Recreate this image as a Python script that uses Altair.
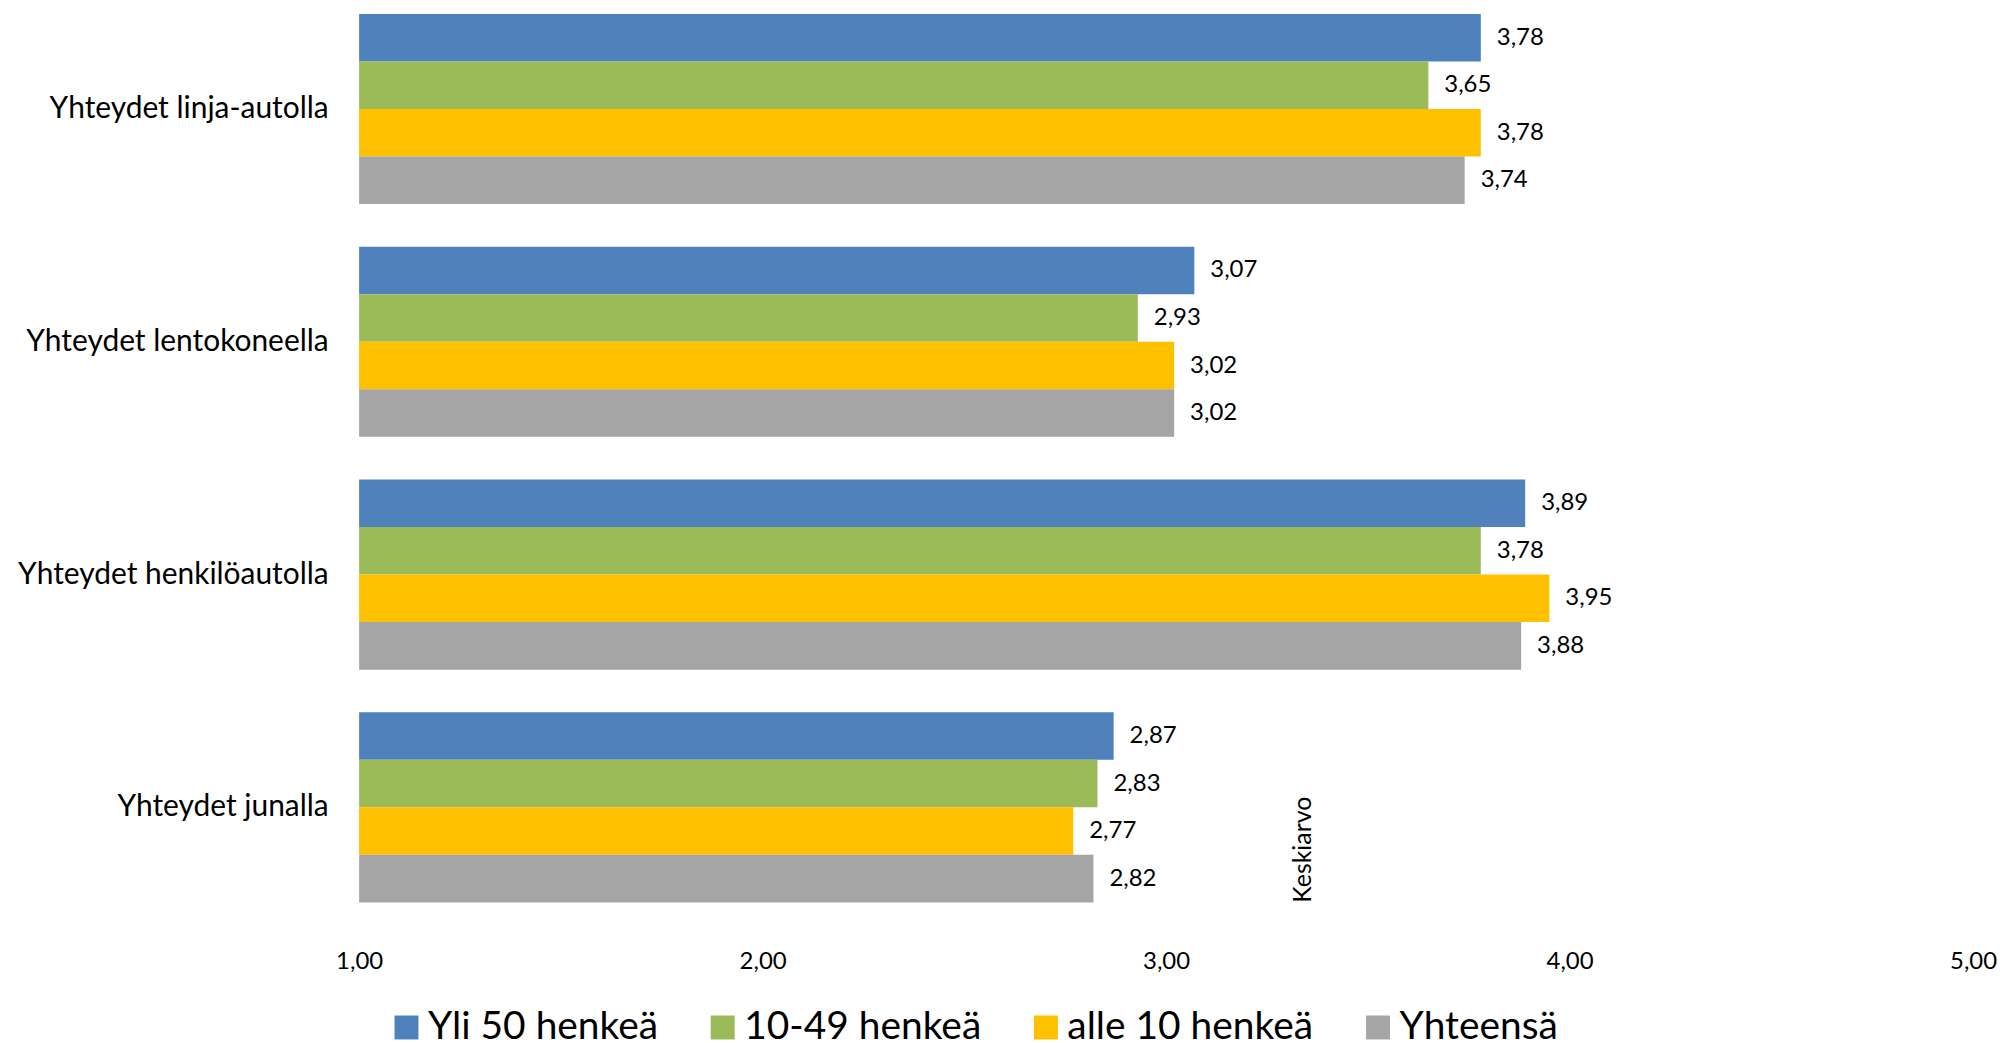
import altair as alt
import pandas as pd

categories = ["Yhteydet linja-autolla", "Yhteydet lentokoneella", "Yhteydet henkilöautolla", "Yhteydet junalla"]
series = ["Yli 50 henkeä", "10-49 henkeä", "alle 10 henkeä", "Yhteensä"]
colors = ["#4F81BD", "#9BBB59", "#FFC000", "#A5A5A5"]

yli50 = [3.78, 3.07, 3.89, 2.87]
v10_49 = [3.65, 2.93, 3.78, 2.83]
alle10 = [3.78, 3.02, 3.95, 2.77]
yhteensa = [3.74, 3.02, 3.88, 2.82]

tick_values = [1, 2, 3, 4, 5]

rows = []
for s, vals in zip(series, [yli50, v10_49, alle10, yhteensa]):
    for c, v in zip(categories, vals):
        rows.append({"kategoria": c, "sarja": s, "arvo": v})
df = pd.DataFrame(rows)

FONT = "Lato"

base = alt.Chart(df).transform_calculate(
    lbl="replace(format(datum.arvo, '.2f'), '.', ',')"
)

y_enc = alt.Y(
    "kategoria:N",
    sort=categories,
    scale=alt.Scale(paddingInner=0.183, paddingOuter=0.02),
    axis=alt.Axis(
        title="Keskiarvo",
        titleX=946,
        titleY=842,
        titleAngle=270,
        titleAlign="center",
        titleBaseline="middle",
        titleFont=FONT,
        titleFontSize=25,
        titleFontWeight="normal",
        titleColor="#000000",
        domain=False,
        ticks=False,
        grid=False,
        labelFont=FONT,
        labelFontSize=30,
        labelColor="#000000",
        labelPadding=31,
        labelLimit=400,
    ),
)

x_enc = alt.X(
    "arvo:Q",
    scale=alt.Scale(domain=[1, 5], zero=False, nice=False),
    axis=alt.Axis(
        title=None,
        values=tick_values,
        labelExpr="replace(format(datum.value, '.2f'), '.', ',')",
        labelFlush=False,
        domain=False,
        ticks=False,
        grid=False,
        labelFont=FONT,
        labelFontSize=24,
        labelColor="#000000",
        labelPadding=43,
        labelBaseline="top",
    ),
)

bars = base.mark_bar(strokeWidth=0).encode(
    y=y_enc,
    yOffset=alt.YOffset("sarja:N", sort=series, scale=alt.Scale(paddingInner=0, paddingOuter=0)),
    x=x_enc,
    x2=alt.datum(1),
    color=alt.Color(
        "sarja:N",
        sort=series,
        scale=alt.Scale(domain=series, range=colors),
        legend=alt.Legend(
            title=None,
            orient="none",
            direction="horizontal",
            legendX=28,
            legendY=1001,
            symbolType="square",
            symbolSize=576,
            symbolStrokeWidth=0,
            symbolOpacity=1,
            labelFont=FONT,
            labelFontSize=39,
            labelColor="#000000",
            labelLimit=500,
            labelOffset=2,
            columnPadding=45,
            symbolOffset=0,
            padding=0,
        ),
    ),
)

labels = base.mark_text(align="left", baseline="middle", dx=16, font=FONT, fontSize=24, color="#000000").encode(
    y=alt.Y("kategoria:N", sort=categories),
    yOffset=alt.YOffset("sarja:N", sort=series),
    x=alt.X("arvo:Q"),
    text="lbl:N",
)

chart = (
    alt.layer(bars, labels)
    .properties(
        width=1618,
        height=900,
        autosize=alt.AutoSizeParams(type="none"),
        padding={"left": 352, "top": 0, "right": 24, "bottom": 135},
        view=alt.ViewBackground(stroke="transparent", strokeWidth=0),
    )
    .configure_view(stroke="transparent", strokeWidth=0)
    .configure(background="white")
)

chart.save("out.html", embed_options={"renderer": "svg", "actions": False})
